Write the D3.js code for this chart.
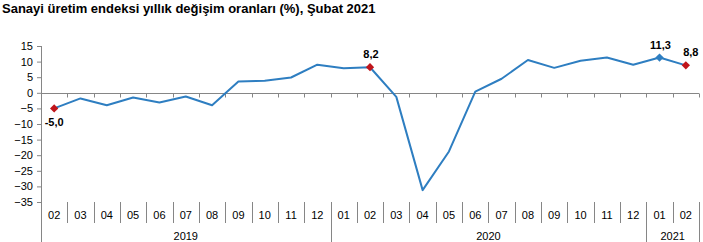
<!DOCTYPE html>
<html>
<head>
<meta charset="utf-8">
<script src="https://cdn.jsdelivr.net/npm/d3@7"></script>
<style>
  body { margin: 0; background: #fff; }
  text { font-family: "Liberation Sans", Arial, sans-serif; }
</style>
</head>
<body>
<div id="chart"></div>
<script>
// data
var months = ["02", "03", "04", "05", "06", "07", "08", "09", "10", "11", "12",
    "01", "02", "03", "04", "05", "06", "07", "08", "09", "10", "11", "12",
    "01", "02"];
var years = [
    {label: "2019", from: 0, to: 11},
    {label: "2020", from: 11, to: 23},
    {label: "2021", from: 23, to: 25}
];
var values = [-5.0, -1.8, -4.0, -1.5, -3.1, -1.2, -4.0, 3.6, 3.9, 4.9, 9.0,
    7.9, 8.2, -1.3, -31.2, -18.8, 0.4, 4.5, 10.5, 8.0, 10.3, 11.3, 9.0,
    11.3, 8.8];
var yTicks = [15, 10, 5, 0, -5, -10, -15, -20, -25, -30, -35];
var redPoints = [0, 12, 24];
var bluePoints = [23];
var labels = [
    {i: 0, text: "-5,0", pos: "below", dx: 0},
    {i: 12, text: "8,2", pos: "above", dx: 1},
    {i: 23, text: "11,3", pos: "above", dx: 1},
    {i: 24, text: "8,8", pos: "above", dx: 5}
];

var W = 703, H = 242;
var plotLeft = 41, plotRight = 699, plotTop = 46, plotBottom = 202;

var svg = d3.select("#chart").append("svg")
    .attr("width", W)
    .attr("height", H);

svg.append("text")
    .attr("x", 2)
    .attr("y", 13)
    .attr("font-size", 13)
    .attr("font-weight", "bold")
    .attr("fill", "#000")
    .text("Sanayi üretim endeksi yıllık değişim oranları (%), Şubat 2021");

var x = d3.scaleBand()
    .domain(d3.range(months.length))
    .range([plotLeft, plotRight]);

var y = d3.scaleLinear()
    .domain([-35, 15])
    .range([plotBottom, plotTop]);

var axisColor = "#868686";

// y axis
var yAxis = d3.axisLeft(y)
    .tickValues(yTicks)
    .tickSize(4)
    .tickFormat(d3.format("d"));
var gy = svg.append("g")
    .attr("transform", "translate(" + plotLeft + ",0)")
    .call(yAxis);
gy.select(".domain").remove();
gy.selectAll("line").attr("stroke", axisColor);
gy.selectAll("text")
    .attr("font-size", 11)
    .attr("fill", "#000")
    .attr("x", -8);

// left axis line, extending down into the category area
svg.append("line")
    .attr("x1", plotLeft + 0.5).attr("x2", plotLeft + 0.5)
    .attr("y1", plotTop).attr("y2", H)
    .attr("stroke", axisColor);

var bounds = d3.range(1, months.length + 1);
function bx(d) { return Math.round(plotLeft + d * x.step()) + 0.5; }

// zero line with ticks
var y0 = Math.round(y(0)) + 0.5;
svg.append("line")
    .attr("x1", plotLeft).attr("x2", plotRight)
    .attr("y1", y0).attr("y2", y0)
    .attr("stroke", axisColor);
svg.append("g")
    .selectAll("line")
    .data(bounds)
    .join("line")
    .attr("x1", bx)
    .attr("x2", bx)
    .attr("y1", y0)
    .attr("y2", y0 + 4)
    .attr("stroke", axisColor);

// month separators
svg.append("g")
    .selectAll("line")
    .data(bounds)
    .join("line")
    .attr("x1", bx)
    .attr("x2", bx)
    .attr("y1", plotBottom)
    .attr("y2", function (d) {
        var isYear = years.some(function (yr) { return yr.to === d; });
        return isYear ? H : 223;
    })
    .attr("stroke", axisColor);

// month labels
svg.append("g")
    .selectAll("text")
    .data(months)
    .join("text")
    .attr("x", function (d, i) { return x(i) + x.bandwidth() / 2; })
    .attr("y", 219)
    .attr("text-anchor", "middle")
    .attr("font-size", 11)
    .attr("fill", "#000")
    .text(function (d) { return d; });

// year labels
svg.append("g")
    .selectAll("text")
    .data(years)
    .join("text")
    .attr("x", function (d) { return plotLeft + (d.from + d.to) / 2 * x.step(); })
    .attr("y", 240)
    .attr("text-anchor", "middle")
    .attr("font-size", 11)
    .attr("fill", "#000")
    .text(function (d) { return d.label; });

// line
var line = d3.line()
    .x(function (d, i) { return x(i) + x.bandwidth() / 2; })
    .y(function (d) { return y(d); });

svg.append("path")
    .datum(values)
    .attr("d", line)
    .attr("fill", "none")
    .attr("stroke", "#2E7EC1")
    .attr("stroke-width", 2)
    .attr("stroke-linejoin", "round");

// markers
var diamond = d3.symbol().type(d3.symbolDiamond2).size(44);
function drawMarkers(idx, color) {
    svg.append("g")
        .selectAll("path")
        .data(idx)
        .join("path")
        .attr("d", diamond)
        .attr("transform", function (i) {
            return "translate(" + (x(i) + x.bandwidth() / 2) + "," + y(values[i]) + ")";
        })
        .attr("fill", color);
}
drawMarkers(redPoints, "#C0151B");
drawMarkers(bluePoints, "#2E7EC1");

// data labels
svg.append("g")
    .selectAll("text")
    .data(labels)
    .join("text")
    .attr("x", function (d) { return x(d.i) + x.bandwidth() / 2 + d.dx; })
    .attr("y", function (d) {
        return d.pos === "below" ? y(values[d.i]) + 18 : y(values[d.i]) - 9;
    })
    .attr("text-anchor", "middle")
    .attr("font-size", 11)
    .attr("font-weight", "bold")
    .attr("fill", "#000")
    .text(function (d) { return d.text; });
</script>
</body>
</html>
